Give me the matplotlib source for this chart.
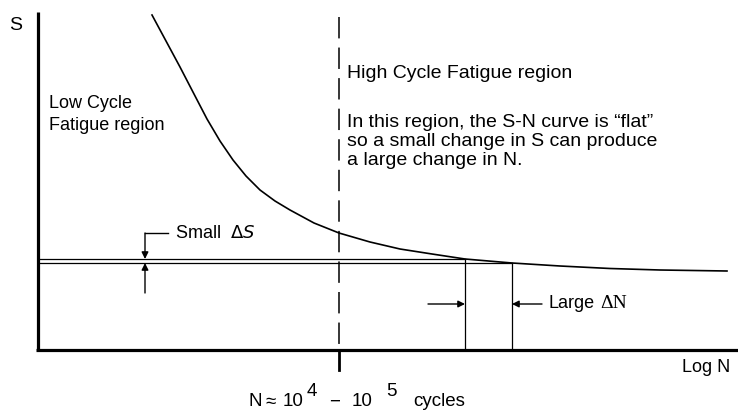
import numpy as np
import matplotlib.pyplot as plt

plt.rcParams['font.family'] = ['Liberation Sans', 'DejaVu Sans']

# S-N curve (x = log N position, y = stress S)
curve_x = [152, 166, 180, 194, 207, 220, 233, 246, 260, 275, 290, 314, 339,
           370, 400, 432, 465, 512, 560, 610, 660, 727]
curve_s = [335, 309, 283, 256, 231, 209, 190, 174, 160, 149, 140, 127, 117,
           108, 101, 96, 91, 87, 84, 81.5, 80, 79]

# two stress levels and the lives where they meet the curve
s_levels = [91, 87]
n_levels = [465, 512]

# boundary between low and high cycle fatigue
n_boundary = 339

fig = plt.figure(figsize=(7.38, 4.12), dpi=100)
ax = fig.add_axes([0, 0, 1, 1])
ax.set_xlim(0, 738)
ax.set_ylim(-62, 350)
ax.axis('off')

# axes
ax.plot([38, 38], [0, 338], color='black', lw=2.3, solid_capstyle='butt')
ax.plot([36, 738], [0, 0], color='black', lw=2.3, solid_capstyle='butt')

# curve
ax.plot(curve_x, curve_s, color='black', lw=1.2, solid_joinstyle='round')

# boundary
ax.plot([n_boundary, n_boundary], [333, 0], color='black', lw=1.1,
        dashes=(14, 6))
ax.plot([n_boundary, n_boundary], [0, -20], color='black', lw=2.0)

# stress levels and lives
for s, n in zip(s_levels, n_levels):
    ax.plot([38, n], [s, s], color='black', lw=0.9)
    ax.plot([n, n], [0, s], color='black', lw=0.9)

arrow = dict(arrowstyle='-|>', color='black', lw=1, mutation_scale=10,
             shrinkA=0, shrinkB=0)

# small delta S
ax.plot([145, 168], [117, 117], color='black', lw=1)
ax.annotate('', xy=(145, s_levels[0]), xytext=(145, 117), arrowprops=arrow)
ax.annotate('', xy=(145, s_levels[1]), xytext=(145, 57), arrowprops=arrow)
ax.text(175, 117, 'Small  $\\Delta S$', fontsize=13, va='center')

# large delta N
ax.annotate('', xy=(n_levels[0], 46), xytext=(428, 46), arrowprops=arrow)
ax.annotate('', xy=(n_levels[1], 46), xytext=(542, 46), arrowprops=arrow)
ax.text(548, 46, 'Large', fontsize=13, va='center')
ax.text(600, 46, '\u0394N', fontsize=14, va='center', family='Liberation Serif')

# labels
ax.text(9, 325, 'S', fontsize=14, va='center')
ax.text(49, 247, 'Low Cycle', fontsize=13, va='center')
ax.text(49, 225, 'Fatigue region', fontsize=13, va='center')
ax.text(347, 277, 'High Cycle Fatigue region', fontsize=14, va='center')
ax.text(347, 228, 'In this region, the S-N curve is \u201cflat\u201d',
        fontsize=14, va='center')
ax.text(347, 209, 'so a small change in S can produce', fontsize=14,
        va='center')
ax.text(347, 190, 'a large change in N.', fontsize=14, va='center')
ax.text(682, -18, 'Log N', fontsize=13, va='center')

ax.text(248, -52, 'N', fontsize=13.5, va='center')
ax.text(265, -52, '\u2248', fontsize=13.5, va='center')
ax.text(283, -52, '10', fontsize=13.5, va='center')
ax.text(307, -42, '4', fontsize=13.5, va='center')
ax.text(329, -52, '\u2212', fontsize=13.5, va='center')
ax.text(352, -52, '10', fontsize=13.5, va='center')
ax.text(386, -42, '5', fontsize=13.5, va='center')
ax.text(413, -52, 'cycles', fontsize=13.5, va='center')

fig.savefig('out.png', dpi=100)
